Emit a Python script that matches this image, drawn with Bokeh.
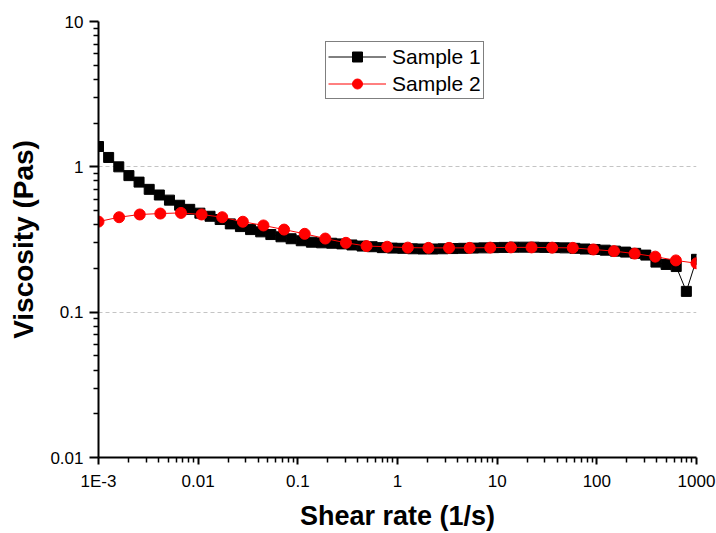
from bokeh.plotting import figure
from bokeh.models import FixedTicker, Legend, LegendItem, Range1d, ColumnDataSource
from bokeh.embed import file_html
from bokeh.resources import INLINE

# ---- data ----
shear_rate_1 = [0.001, 0.001264, 0.001598, 0.002019, 0.002552, 0.003226, 0.004077, 0.005153,
                0.006513, 0.008232, 0.010404, 0.01315, 0.01662, 0.02101, 0.02655, 0.03356,
                0.04241, 0.0536, 0.06775, 0.08563, 0.1082, 0.1368, 0.1729, 0.2185, 0.2761,
                0.349, 0.4411, 0.5575, 0.7046, 0.8896, 1.124, 1.419, 1.794, 2.267, 2.865,
                3.622, 4.581, 5.789, 7.316, 9.249, 11.68, 14.76, 18.66, 23.58, 29.8, 37.66,
                47.6, 60.17, 76.06, 96.1, 121.5, 153.5, 194.1, 245.3, 310.0, 391.8, 495.3,
                625.9, 791.1, 1000.0]
viscosity_1 = [1.38, 1.16, 1.0, 0.87, 0.785, 0.70, 0.64, 0.59, 0.544, 0.51,
               0.48, 0.457, 0.434, 0.405, 0.388, 0.37, 0.357, 0.342, 0.33, 0.32,
               0.31, 0.303, 0.30, 0.298, 0.295, 0.29, 0.285, 0.282, 0.278, 0.276,
               0.275, 0.273, 0.272, 0.272, 0.273, 0.274, 0.275, 0.276, 0.277, 0.278,
               0.279, 0.28, 0.28, 0.28, 0.279, 0.278, 0.277, 0.275, 0.272, 0.27,
               0.267, 0.263, 0.259, 0.254, 0.247, 0.221, 0.213, 0.206, 0.139, 0.231]

shear_rate_2 = [0.001, 0.00161, 0.002593, 0.004175, 0.006723, 0.01083, 0.01743, 0.02807,
                0.0452, 0.07279, 0.1172, 0.1887, 0.3039, 0.4894, 0.788, 1.269, 2.043,
                3.29, 5.298, 8.532, 13.74, 22.12, 35.62, 57.36, 92.37, 148.7, 239.5,
                385.7, 621.1, 1000.0]
viscosity_2 = [0.42, 0.45, 0.47, 0.477, 0.482, 0.47, 0.45, 0.419, 0.395, 0.37,
               0.346, 0.321, 0.30, 0.285, 0.282, 0.278, 0.277, 0.277, 0.277, 0.278,
               0.279, 0.279, 0.278, 0.277, 0.27, 0.263, 0.253, 0.241, 0.227, 0.217]

series_labels = ["Sample 1", "Sample 2"]
x_title = "Shear rate (1/s)"
y_title = "Viscosity (Pas)"

x_ticks = [0.001, 0.01, 0.1, 1.0, 10.0, 100.0, 1000.0]
x_tick_labels = ["1E-3", "0.01", "0.1", "1", "10", "100", "1000"]
y_ticks = [0.01, 0.1, 1.0, 10.0]
y_tick_labels = ["0.01", "0.1", "1", "10"]
y_grid_values = [0.1, 1.0]

x_minor = [m * t for t in x_ticks[:-1] for m in range(2, 10)]
y_minor = [m * t for t in y_ticks[:-1] for m in range(2, 10)]

FONT = "Liberation Sans"

p = figure(width=716, height=533, x_axis_type="log", y_axis_type="log",
           x_range=Range1d(0.001, 1000), y_range=Range1d(0.01, 10),
           output_backend="svg", toolbar_location=None,
           min_border_left=98, min_border_right=20, min_border_top=21,
           min_border_bottom=74)
p.outline_line_color = None
p.background_fill_color = "white"
p.border_fill_color = "white"

# grid
p.xgrid.visible = False
p.ygrid.ticker = FixedTicker(ticks=y_grid_values)
p.ygrid.grid_line_color = "#c4c4c4"
p.ygrid.grid_line_dash = "4 3"
p.ygrid.grid_line_width = 1

# axes
p.xaxis.ticker = FixedTicker(ticks=x_ticks, minor_ticks=x_minor)
p.yaxis.ticker = FixedTicker(ticks=y_ticks, minor_ticks=y_minor)
p.xaxis.major_label_overrides = dict(zip(x_ticks, x_tick_labels))
p.yaxis.major_label_overrides = dict(zip(y_ticks, y_tick_labels))
p.xaxis.axis_label = x_title
p.yaxis.axis_label = y_title

for ax in (p.xaxis[0], p.yaxis[0]):
    ax.axis_line_color = "black"
    ax.axis_line_width = 2
    ax.major_tick_line_color = "black"
    ax.minor_tick_line_color = "black"
    ax.major_tick_line_width = 2
    ax.minor_tick_line_width = 1.5
    ax.major_tick_in = 0
    ax.minor_tick_in = 0
    ax.major_label_text_font = FONT
    ax.major_label_text_font_size = "17px"
    ax.major_label_text_color = "black"
    ax.axis_label_text_font = FONT
    ax.axis_label_text_font_style = "bold"
    ax.axis_label_text_color = "black"

p.xaxis.major_tick_out = 7
p.xaxis.minor_tick_out = 5
p.xaxis.major_label_standoff = 7
p.xaxis.axis_label_standoff = 7
p.xaxis.axis_label_text_font_size = "27px"

p.yaxis.major_tick_out = 9
p.yaxis.minor_tick_out = 5
p.yaxis.major_label_standoff = 6
p.yaxis.axis_label_standoff = 8
p.yaxis.axis_label_text_font_size = "28px"

# series
src1 = ColumnDataSource(dict(x=shear_rate_1, y=viscosity_1))
src2 = ColumnDataSource(dict(x=shear_rate_2, y=viscosity_2))

l1 = p.line("x", "y", source=src1, line_color="black", line_width=1)
s1 = p.scatter("x", "y", source=src1, marker="square", size=10,
               fill_color="black", line_color="black")
l2 = p.line("x", "y", source=src2, line_color="#ff0000", line_width=1)
s2 = p.scatter("x", "y", source=src2, marker="circle", size=11,
               fill_color="#ff0000", line_color="#ff0000")

legend = Legend(items=[LegendItem(label=series_labels[0], renderers=[l1, s1]),
                       LegendItem(label=series_labels[1], renderers=[l2, s2])],
                location=(227, 358), margin=0, padding=2, spacing=2,
                glyph_width=58, glyph_height=25, label_height=25,
                label_standoff=6,
                label_text_font=FONT, label_text_font_size="21px",
                label_text_color="black",
                border_line_color="black", border_line_width=1,
                background_fill_color="white", background_fill_alpha=1)
p.add_layout(legend)

open("out.html", "w").write(file_html(p, INLINE))
